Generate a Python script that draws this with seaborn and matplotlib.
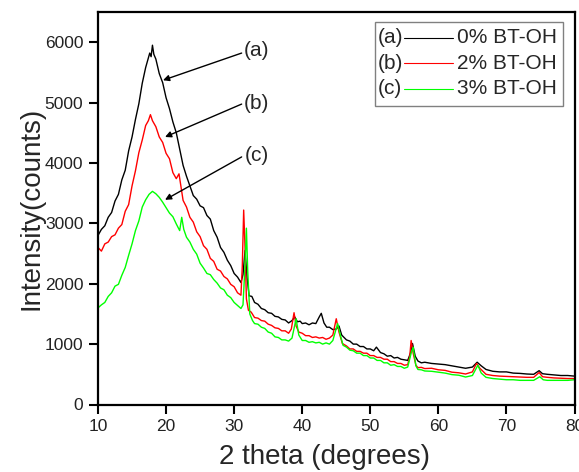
import matplotlib
matplotlib.use("Agg")
import matplotlib.pyplot as plt
from matplotlib.patches import Rectangle
from matplotlib.lines import Line2D
import pandas as pd
import seaborn as sns

# XRD patterns of the three samples: 2-theta (degrees) vs intensity (counts)
theta_a = [10, 10.5, 11, 11.5, 12, 12.5, 13, 13.5, 14, 14.5, 15, 15.5, 16, 16.5, 17, 17.3, 17.6, 17.8, 18.0,
           18.2, 18.5, 19, 19.5, 20, 20.5, 21, 21.5, 22, 22.5, 23, 23.5, 24, 24.5, 25, 25.5, 26, 26.5, 27,
           27.5, 28, 28.5, 29, 29.5, 30, 30.5, 31, 31.3, 31.6, 31.9, 32.2, 32.6, 33, 33.5, 34, 34.5, 35,
           35.5, 36, 36.5, 37, 37.5, 38, 38.5, 38.9, 39.3, 39.7, 40, 40.5, 41, 41.5, 42, 42.5, 42.8, 43.2,
           43.6, 44, 44.5, 45, 45.4, 45.8, 46.5, 47, 47.5, 48, 48.5, 49, 49.5, 50, 50.5, 50.9, 51.5, 52,
           52.5, 53, 53.5, 54, 54.5, 55, 55.5, 55.9, 56.2, 56.6, 57, 57.5, 58, 59, 60, 61, 62, 63, 64, 65,
           65.7, 66.3, 67, 68, 69, 70, 71, 72, 73, 74, 74.8, 75.3, 76, 77, 78, 79, 80]
intensity_a = [2800, 2900, 2960, 3100, 3180, 3370, 3480, 3720, 3880, 4200, 4430, 4720, 4980, 5320, 5580, 5700,
               5820, 5760, 5950, 5800, 5720, 5480, 5330, 5080, 4900, 4680, 4500, 4230, 3960, 3780, 3620,
               3460, 3400, 3290, 3260, 3130, 3070, 2880, 2770, 2600, 2520, 2390, 2300, 2170, 2110, 2020,
               2150, 2550, 2100, 1800, 1790, 1690, 1660, 1590, 1570, 1520, 1510, 1460, 1450, 1410, 1400,
               1350, 1390, 1450, 1370, 1380, 1340, 1350, 1320, 1350, 1340, 1450, 1510, 1350, 1280, 1280,
               1240, 1250, 1300, 1150, 1070, 1050, 1000, 1000, 960, 960, 920, 920, 890, 950, 860, 840, 800,
               810, 770, 780, 750, 740, 730, 850, 1010, 800, 720, 690, 700, 680, 670, 660, 640, 620, 600,
               620, 700, 640, 580, 550, 540, 540, 520, 515, 505, 500, 560, 510, 500, 490, 480, 480, 470]

theta_b = [10, 10.5, 11, 11.5, 12, 12.5, 13, 13.5, 14, 14.5, 15, 15.5, 16, 16.5, 17, 17.4, 17.7, 18.0, 18.5,
           19, 19.5, 20, 20.5, 21, 21.5, 21.9, 22.2, 22.5, 23, 23.5, 24, 24.5, 25, 25.5, 26, 26.5, 27, 27.5,
           28, 28.5, 29, 29.5, 30, 30.5, 31, 31.2, 31.4, 31.6, 31.8, 32.1, 32.5, 33, 33.5, 34, 34.5, 35,
           35.5, 36, 36.5, 37, 37.5, 38, 38.4, 38.8, 39.1, 39.5, 40, 40.5, 41, 41.5, 42, 42.5, 43, 43.5,
           44, 44.5, 45, 45.4, 45.9, 46.5, 47, 47.5, 48, 48.5, 49, 49.5, 50, 50.5, 51, 51.5, 52, 52.5, 53,
           53.5, 54, 54.5, 55, 55.5, 55.8, 56, 56.3, 56.7, 57, 57.5, 58, 59, 60, 61, 62, 63, 64, 65, 65.6,
           66.1, 67, 68, 69, 70, 71, 72, 73, 74, 74.8, 75.3, 76, 77, 78, 79, 80]
intensity_b = [2600, 2540, 2660, 2690, 2780, 2810, 2920, 2980, 3200, 3310, 3620, 3870, 4170, 4380, 4620, 4700,
               4800, 4700, 4600, 4430, 4340, 4160, 4070, 3840, 3740, 3820, 3600, 3380, 3270, 3100, 3020,
               2860, 2780, 2630, 2570, 2420, 2370, 2240, 2210, 2120, 2080, 1990, 1950, 1850, 1810, 2300,
               3220, 2600, 1750, 1560, 1530, 1440, 1430, 1390, 1380, 1330, 1310, 1270, 1260, 1220, 1220,
               1180, 1250, 1520, 1300, 1200, 1180, 1140, 1140, 1110, 1120, 1100, 1110, 1080, 1100, 1150,
               1420, 1200, 1010, 970, 920, 920, 880, 880, 850, 850, 810, 810, 780, 780, 750, 750, 710, 710,
               680, 680, 650, 660, 800, 1060, 850, 650, 610, 615, 595, 600, 575, 565, 535, 525, 505, 540,
               680, 600, 500, 480, 470, 465, 460, 455, 450, 450, 530, 460, 450, 440, 435, 430, 430]

theta_c = [10, 10.5, 11, 11.5, 12, 12.5, 13, 13.5, 14, 14.5, 15, 15.5, 16, 16.5, 17, 17.5, 18, 18.5, 19,
           19.5, 20, 20.5, 21, 21.5, 22, 22.3, 22.6, 23, 23.5, 24, 24.5, 25, 25.5, 26, 26.5, 27, 27.5, 28,
           28.5, 29, 29.5, 30, 30.5, 31, 31.3, 31.6, 31.8, 32.0, 32.3, 32.7, 33, 33.5, 34, 34.5, 35, 35.5,
           36, 36.5, 37, 37.5, 38, 38.5, 39.1, 39.5, 40, 40.5, 41, 41.5, 42, 42.5, 43, 43.5, 44, 44.5, 45.2,
           45.6, 46, 46.5, 47, 47.5, 48, 48.5, 49, 49.5, 50, 50.5, 51, 51.5, 52, 52.5, 53, 53.5, 54, 54.5,
           55, 55.5, 56, 56.3, 56.7, 57, 57.5, 58, 59, 60, 61, 62, 63, 64, 65, 65.8, 66.3, 67, 68, 69, 70,
           71, 72, 73, 74, 74.9, 75.4, 76, 77, 78, 79, 80]
intensity_c = [1600, 1650, 1690, 1790, 1850, 1960, 1990, 2140, 2270, 2470, 2660, 2880, 3040, 3270, 3390, 3480,
               3530, 3490, 3430, 3350, 3260, 3170, 3110, 2990, 2880, 3100, 2900, 2770, 2690, 2570, 2490,
               2340, 2260, 2170, 2150, 2070, 2010, 1930, 1900, 1810, 1770, 1690, 1640, 1590, 1650, 2300,
               2920, 2200, 1500, 1390, 1340, 1330, 1280, 1260, 1200, 1180, 1120, 1110, 1070, 1070, 1050,
               1100, 1420, 1150, 1060, 1060, 1030, 1040, 1020, 1030, 1000, 1020, 1000, 1060, 1340, 1150,
               980, 950, 900, 890, 850, 850, 810, 810, 770, 770, 730, 730, 690, 690, 650, 660, 630, 630,
               600, 620, 850, 950, 640, 580, 575, 555, 550, 535, 520, 495, 485, 455, 480, 650, 520, 450,
               430, 420, 410, 410, 400, 400, 400, 460, 410, 400, 400, 400, 400, 410]

series_tags = ["(a)", "(b)", "(c)"]
series_names = ["0% BT-OH", "2% BT-OH", "3% BT-OH"]
series_colors = ["#000000", "#ff0000", "#00ff00"]

x_ticks = [10, 20, 30, 40, 50, 60, 70, 80]
y_ticks = [0, 1000, 2000, 3000, 4000, 5000, 6000]

sns.set_style("ticks")
plt.rcParams["font.family"] = ["Liberation Sans", "DejaVu Sans"]

fig = plt.figure(figsize=(5.79, 4.72), dpi=100)
ax = fig.add_axes([98 / 579, 1 - 404.5 / 472, 476.5 / 579, 392.5 / 472])

frames = [
    pd.DataFrame({"theta": theta_a, "counts": intensity_a}),
    pd.DataFrame({"theta": theta_b, "counts": intensity_b}),
    pd.DataFrame({"theta": theta_c, "counts": intensity_c}),
]
for df, color in zip(frames, series_colors):
    sns.lineplot(data=df, x="theta", y="counts", color=color, linewidth=1.0, ax=ax,
                 estimator=None, sort=False)

ax.set_xlim(10, 80)
ax.set_ylim(0, 6500)
ax.set_xticks(x_ticks)
ax.set_yticks(y_ticks)
ax.tick_params(axis="both", direction="out", length=6.5, width=1.5, labelsize=12.5,
               colors="black", labelcolor="#222222", pad=4)
for side in ["left", "right", "top", "bottom"]:
    ax.spines[side].set_visible(True)
    ax.spines[side].set_linewidth(1.6)
    ax.spines[side].set_color("black")

ax.set_xlabel("2 theta (degrees)", fontsize=20)
ax.set_ylabel("Intensity(counts)", fontsize=20)
ax.xaxis.set_label_coords(0.476, -0.1)
ax.yaxis.set_label_coords(-0.113, 0.5)

# Curve labels with arrows pointing to each pattern
label_pos = [(33.3, 5870), (33.3, 4990), (33.3, 4130)]
arrow_tail = [(31.1, 5820), (31.1, 4975), (31.1, 4100)]
arrow_head = [(19.55, 5370), (19.85, 4430), (19.85, 3390)]
for tag, pos, tail, head in zip(series_tags, label_pos, arrow_tail, arrow_head):
    ax.text(pos[0], pos[1], tag, fontsize=15, ha="center", va="center")
    ax.annotate("", xy=head, xytext=tail,
                arrowprops=dict(arrowstyle="-|>", color="black", lw=1.0, mutation_scale=9,
                                shrinkA=0, shrinkB=0))

# Legend box: tag, line sample, sample name
ax.add_patch(Rectangle((0.581, 0.7605), 0.395, 0.214, transform=ax.transAxes,
                       facecolor="white", edgecolor="#808080", linewidth=1.0, zorder=5))
row_y = [0.934, 0.869, 0.805]
for tag, name, color, yy in zip(series_tags, series_names, series_colors, row_y):
    ax.text(0.588, yy, tag, transform=ax.transAxes, fontsize=15, ha="left", va="center", zorder=6)
    ax.add_line(Line2D([0.643, 0.745], [yy, yy], transform=ax.transAxes, color=color,
                       linewidth=0.8, zorder=6))
    ax.text(0.753, yy, name, transform=ax.transAxes, fontsize=15, ha="left", va="center", zorder=6)

fig.savefig("out.png", dpi=100)
